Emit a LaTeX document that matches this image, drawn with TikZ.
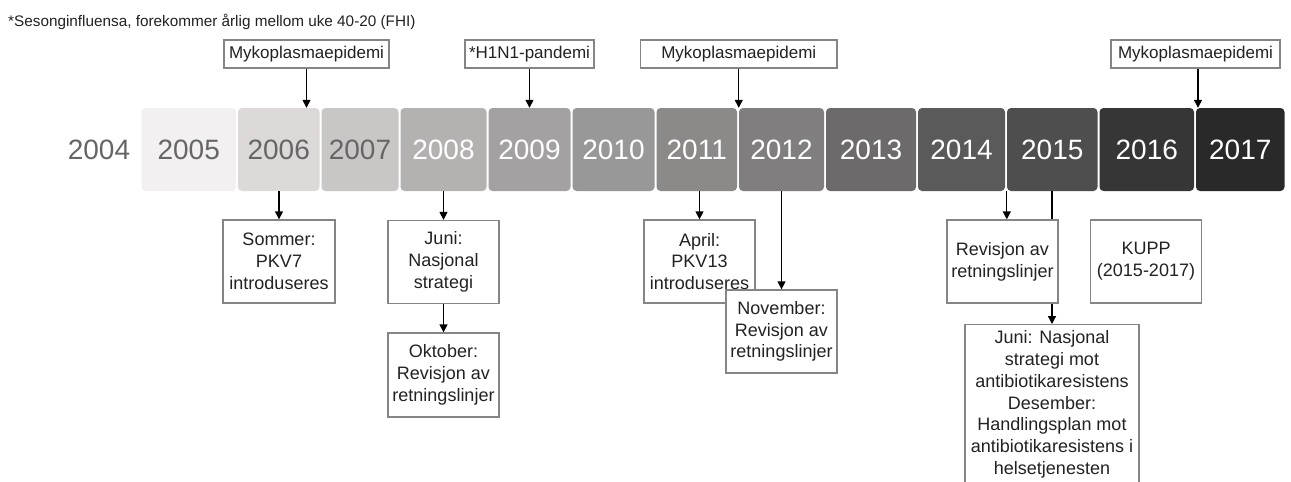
\documentclass[tikz,border=0pt]{standalone}
\usepackage{fontspec}
\setmainfont{Liberation Sans}
\usetikzlibrary{arrows.meta}
\definecolor{c2005}{HTML}{F2F0F0}
\definecolor{c2006}{HTML}{DDD9D9}
\definecolor{c2007}{HTML}{C9C6C6}
\definecolor{c2008}{HTML}{B4B1B1}
\definecolor{c2009}{HTML}{A3A1A2}
\definecolor{c2010}{HTML}{999899}
\definecolor{c2011}{HTML}{8C8989}
\definecolor{c2012}{HTML}{807E7F}
\definecolor{c2013}{HTML}{6C6A6B}
\definecolor{c2014}{HTML}{5B5A5B}
\definecolor{c2015}{HTML}{4F4E4F}
\definecolor{c2016}{HTML}{373637}
\definecolor{c2017}{HTML}{2A292A}
\definecolor{ydark}{HTML}{666666}
\definecolor{boxline}{HTML}{858585}
\definecolor{txt}{HTML}{222222}
\begin{document}
\begin{tikzpicture}[x=1pt,y=-1pt,
  yearblock/.style={rectangle, rounded corners=4pt, minimum height=83pt, inner sep=0pt,
    font=\fontsize{28}{30}\selectfont, text=white},
  topbox/.style={draw=boxline, line width=1.3pt, fill=white, minimum height=28pt, inner sep=0pt,
    font=\fontsize{17}{20}\selectfont, text=txt},
  lowbox/.style={draw=boxline, line width=1.3pt, fill=white, inner sep=0pt, align=center,
    font=\fontsize{18}{21.8}\selectfont, text=txt},
  arr/.style={line width=1.3pt, draw=black, -{Triangle[length=8pt,width=8pt]}},
  plain/.style={line width=1.3pt, draw=black}
]
\useasboundingbox (0,0) rectangle (1291,482);
\clip (0,0) rectangle (1291,482);
\fill[white] (0,0) rectangle (1291,482);

% header
\node[anchor=west, inner sep=0pt, font=\fontsize{15.3}{18}\selectfont, text=txt] (hdr) at (8,22)
  {*Sesonginfluensa, forekommer årlig mellom uke 40-20 (FHI)};

% years
\node[inner sep=0pt, font=\fontsize{28}{30}\selectfont, text=ydark] (y2004) at (99,149.5) {2004};
\node[yearblock, fill=c2005, text=ydark, minimum width=94.5pt] (b2005) at (188.75,149.5) {2005};
\node[yearblock, fill=c2006, text=ydark, minimum width=81.5pt] (b2006) at (278.75,149.5) {2006};
\node[yearblock, fill=c2007, text=ydark, minimum width=77pt]   (b2007) at (360,149.5) {2007};
\node[yearblock, fill=c2008, minimum width=86pt]   (b2008) at (443.5,149.5) {2008};
\node[yearblock, fill=c2009, minimum width=82pt]   (b2009) at (529.5,149.5) {2009};
\node[yearblock, fill=c2010, minimum width=82pt]   (b2010) at (613.5,149.5) {2010};
\node[yearblock, fill=c2011, minimum width=80.5pt] (b2011) at (696.75,149.5) {2011};
\node[yearblock, fill=c2012, minimum width=85pt]   (b2012) at (781.5,149.5) {2012};
\node[yearblock, fill=c2013, minimum width=90pt]   (b2013) at (871,149.5) {2013};
\node[yearblock, fill=c2014, minimum width=87pt]   (b2014) at (961.5,149.5) {2014};
\node[yearblock, fill=c2015, minimum width=90.5pt] (b2015) at (1052.25,149.5) {2015};
\node[yearblock, fill=c2016, minimum width=94.5pt] (b2016) at (1146.75,149.5) {2016};
\node[yearblock, fill=c2017, minimum width=88.5pt] (b2017) at (1240.25,149.5) {2017};

% top boxes
\node[topbox, minimum width=165pt]   (m1) at (306.5,54) {Mykoplasmaepidemi};
\node[topbox, minimum width=129pt]   (h1) at (529.5,54) {*H1N1-pandemi};
\node[topbox, minimum width=196.5pt] (m2) at (738.75,54) {Mykoplasmaepidemi};
\node[topbox, minimum width=169pt]   (m3) at (1195.5,54) {Mykoplasmaepidemi};

\draw[arr] (m1.south) -- (m1.south |- b2006.north);
\draw[arr] (h1.south) -- (h1.south |- b2009.north);
\draw[arr] (m2.south) -- (m2.south |- b2011.north);
\draw[arr] ([xshift=2.5pt]m3.south) -- ([xshift=2.5pt]m3.south |- b2017.north);

% lower boxes
\node[lowbox, minimum width=112pt, minimum height=83pt] (sommer) at (279,261.5)
  {Sommer:\\PKV7\\introduseres};
\node[lowbox, minimum width=111pt, minimum height=83pt] (juni) at (443.5,262)
  {Juni:\\Nasjonal\\strategi};
\node[lowbox, minimum width=111pt, minimum height=84pt] (okt) at (443.5,375)
  {Oktober:\\Revisjon av\\retningslinjer};
\node[lowbox, minimum width=111pt, minimum height=83pt] (april) at (699.5,261.5)
  {April:\\PKV13\\introduseres};
\node[lowbox, minimum width=111pt, minimum height=83pt] (nov) at (781.5,331.5)
  {November:\\Revisjon av\\retningslinjer};
\node[lowbox, minimum width=111.5pt, minimum height=83pt] (kupp) at (1146,261.5)
  {KUPP\\(2015-2017)};
\node[lowbox, anchor=north, minimum width=174pt, inner ysep=6pt] (big) at (1052,324)
  {Juni: Nasjonal\\strategi mot\\antibiotikaresistens\\Desember:\\Handlingsplan mot\\antibiotikaresistens i\\helsetjenesten\\[4pt]};

\draw[arr] (b2006.south -| sommer.north) -- (sommer.north);
\draw[arr] (b2008.south) -- (juni.north);
\draw[arr] (juni.south) -- (okt.north);
\draw[arr] (b2011.south -| april.north) -- (april.north);
\draw[arr] (b2012.south -| nov.north) -- (nov.north);
\draw[arr] (b2015.south -| big.north) -- (big.north);

\node[lowbox, minimum width=111pt, minimum height=83pt] (rev) at (1002.5,261.5)
  {Revisjon av\\retningslinjer};
\draw[arr] (b2015.south west) -- (b2015.south west |- rev.north);
\end{tikzpicture}
\end{document}
